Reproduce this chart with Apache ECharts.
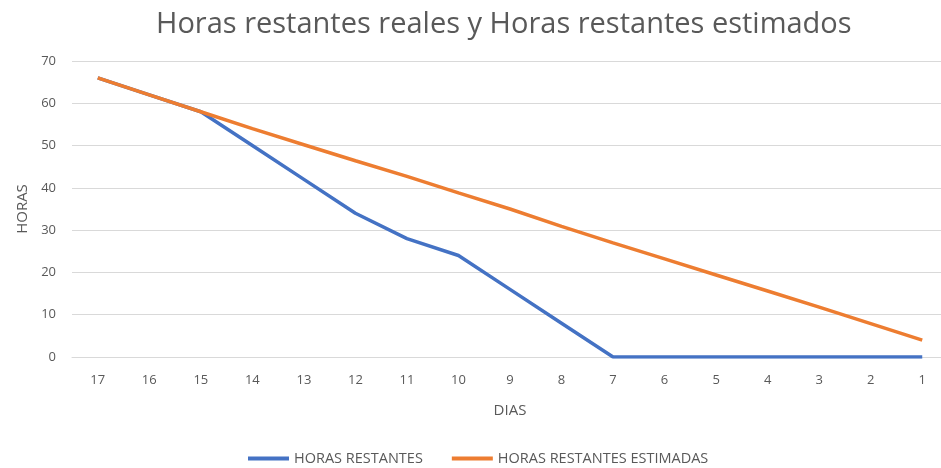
<!DOCTYPE html>
<html>
<head>
<meta charset="utf-8">
<script src="https://cdn.jsdelivr.net/npm/echarts@6/dist/echarts.min.js"></script>
<style>
  html, body { margin: 0; padding: 0; background: #fff; }
  #main { width: 941px; height: 468px; }
</style>
</head>
<body>
<div id="main"></div>
<script>
var dias = ['17', '16', '15', '14', '13', '12', '11', '10', '9', '8', '7', '6', '5', '4', '3', '2', '1'];
var horasRestantes = [66, 62, 58, 50, 42, 34, 28, 24, 16, 8, 0, 0, 0, 0, 0, 0, 0];
var horasEstimadas = [66, 62, 58, 54, 50.2, 46.4, 42.7, 38.8, 35, 30.9, 27, 23.2, 19.4, 15.6, 11.8, 7.9, 4];
var yTicks = [0, 10, 20, 30, 40, 50, 60, 70];

var font = 'Open Sans, sans-serif';
var gray = '#595959';

var myChart = echarts.init(document.getElementById('main'));
myChart.setOption({
    animation: false,
    title: {
        text: 'Horas restantes reales y Horas restantes estimados',
        left: 151,
        top: 5,
        textStyle: { color: gray, fontSize: 29, fontWeight: 'normal', fontFamily: font }
    },
    legend: {
        top: 446,
        left: 243,
        itemWidth: 41,
        itemHeight: 4,
        itemGap: 29,
        icon: 'rect',
        textStyle: { color: gray, fontSize: 14.5, fontFamily: font },
        data: ['HORAS RESTANTES', 'HORAS RESTANTES ESTIMADAS']
    },
    grid: { left: 72, top: 61, width: 876, height: 296, outerBoundsMode: 'none', containLabel: false },
    xAxis: {
        type: 'category',
        data: dias,
        boundaryGap: true,
        name: 'DIAS',
        nameLocation: 'middle',
        nameGap: 46,
        nameTextStyle: { color: gray, fontSize: 15, fontFamily: font },
        axisLine: { lineStyle: { color: '#D9D9D9' } },
        axisTick: { show: false },
        axisLabel: { color: gray, fontSize: 13, margin: 17, fontFamily: font }
    },
    yAxis: {
        type: 'value',
        min: yTicks[0],
        max: yTicks[yTicks.length - 1],
        interval: 10,
        name: 'HORAS',
        nameLocation: 'middle',
        nameGap: 42,
        nameTextStyle: { color: gray, fontSize: 15, fontFamily: font },
        axisLine: { show: false },
        axisTick: { show: false },
        axisLabel: { color: gray, fontSize: 13, margin: 16, fontFamily: font },
        splitLine: { lineStyle: { color: '#D9D9D9' } }
    },
    series: [
        {
            name: 'HORAS RESTANTES',
            type: 'line',
            data: horasRestantes,
            showSymbol: false,
            symbol: 'none',
            lineStyle: { color: '#4472C4', width: 3.5 },
            itemStyle: { color: '#4472C4' }
        },
        {
            name: 'HORAS RESTANTES ESTIMADAS',
            type: 'line',
            data: horasEstimadas,
            showSymbol: false,
            symbol: 'none',
            lineStyle: { color: '#ED7D31', width: 3.5 },
            itemStyle: { color: '#ED7D31' }
        }
    ]
});
</script>
</body>
</html>
